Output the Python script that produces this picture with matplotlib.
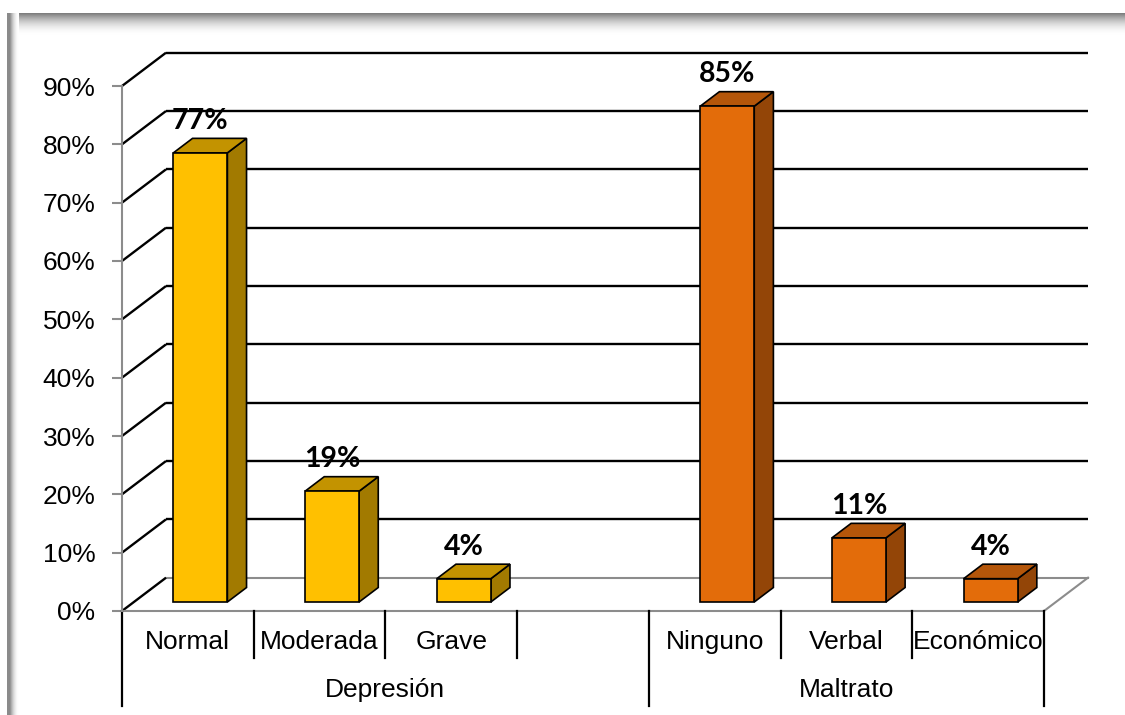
import numpy as np
import matplotlib
matplotlib.use("Agg")
import matplotlib.pyplot as plt
from matplotlib.patches import Polygon
from matplotlib.transforms import blended_transform_factory

# ---- data -------------------------------------------------------------
categories = ["Normal", "Moderada", "Grave", "Ninguno", "Verbal", "Económico"]
groups = ["Depresión", "Maltrato"]
values = [77, 19, 4, 85, 11, 4]
slots = [0, 1, 2, 4, 5, 6]          # slot 3 is the empty spacer between groups
bar_group = [0, 0, 0, 1, 1, 1]
yticks = list(range(0, 91, 10))
ytick_labels = [f"{v}%" for v in yticks]

# face colours per group: (front, top, side)
face_colors = [("#FFC000", "#C39300", "#A27A00"),
               ("#E36C0A", "#B4560A", "#934507")]

W, H = 1125, 715
fig = plt.figure(figsize=(W / 100, H / 100), dpi=100)
fig.patch.set_facecolor("white")

# ---- picture frame (top shadow band and left edge) --------------------
bg = fig.add_axes([0, 0, 1, 1], zorder=-5)
bg.set_xlim(0, W)
bg.set_ylim(H, 0)
bg.axis("off")
t = np.linspace(0, 1, 64)
top_grad = (0.48 + 0.52 * (1 - (1 - t) ** 2.0))[:, None] * np.ones((1, 4))
bg.imshow(top_grad, cmap="gray", vmin=0, vmax=1, extent=(7, W, 36, 13),
          aspect="auto", interpolation="bilinear")
left_grad = (0.55 + 0.45 * (1 - (1 - t) ** 2.0))[None, :] * np.ones((4, 1))
bg.imshow(left_grad, cmap="gray", vmin=0, vmax=1, extent=(10, 19, H, 13),
          aspect="auto", interpolation="bilinear")
bg.fill_between([7, 10], 13, H, color="#8a8a8a", lw=0)
bg.set_xlim(0, W)
bg.set_ylim(H, 0)

# ---- main plotting axes ------------------------------------------------
x0_px, x1_px = 122, 1044
y0_px, y1_px = 611, 86
ax = fig.add_axes([x0_px / W, (H - y0_px) / H, (x1_px - x0_px) / W, (y0_px - y1_px) / H])
n_slots = 7
ax.set_xlim(0, n_slots)
ax.set_ylim(0, 90)
ax.set_facecolor("none")

# depth offset of the back wall, in data units
DX = 44 / ((x1_px - x0_px) / n_slots)
DY = 33.3 / ((y0_px - y1_px) / 90)

def depth(x, y, d):
    return x + d * DX, y + d * DY

grid_kw = dict(color="black", lw=1.7, clip_on=False, zorder=1, solid_capstyle="butt")
floor_kw = dict(color="#8c8c8c", lw=1.5, clip_on=False, zorder=1)

# back wall grid lines and the left-wall diagonals
for v in yticks:
    bx0, by = depth(0, v, 1)
    bx1, _ = depth(n_slots, v, 1)
    if v == 0:
        ax.plot([bx0, bx1], [by, by], **floor_kw)
    else:
        ax.plot([bx0, bx1], [by, by], **grid_kw)
    ax.plot([0, bx0], [v, by], **grid_kw)

# floor outline
ax.plot([0, n_slots], [0, 0], **floor_kw)
fx, fy = depth(n_slots, 0, 1)
ax.plot([n_slots, fx], [0, fy], **floor_kw)

# value axis
for s in ["top", "right", "bottom"]:
    ax.spines[s].set_visible(False)
ax.spines["left"].set_color("#8c8c8c")
ax.spines["left"].set_linewidth(1.5)
ax.spines["left"].set_zorder(2)
ax.set_yticks(yticks)
ax.set_yticklabels(ytick_labels, fontfamily="Liberation Sans", fontsize=19)
ax.tick_params(axis="y", length=7, width=1.5, color="#8c8c8c", pad=12)
ax.set_xticks([])

# ---- 3D bars ------------------------------------------------------------
bar_w = 0.41
d_front, d_back = 0.27, 0.705
edge = dict(edgecolor="black", lw=1.2, joinstyle="miter", clip_on=False, zorder=3)

for s, v, g in zip(slots, values, bar_group):
    front, top, side = face_colors[g]
    xl = s + 0.5 - bar_w / 2 + 0.005
    xr = xl + bar_w
    fl = depth(xl, 0, d_front); fr = depth(xr, 0, d_front)
    tl = depth(xl, v, d_front); tr = depth(xr, v, d_front)
    br_b = depth(xr, 0, d_back); br_t = depth(xr, v, d_back)
    bl_t = depth(xl, v, d_back)
    ax.add_patch(Polygon([fr, br_b, br_t, tr], closed=True, facecolor=side, **edge))
    ax.add_patch(Polygon([tl, tr, br_t, bl_t], closed=True, facecolor=top, **edge))
    ax.add_patch(Polygon([fl, fr, tr, tl], closed=True, facecolor=front, **edge))
    cx = (fl[0] + fr[0]) / 2
    ax.text(cx, br_t[1] + 1.6, f"{v}%", ha="center", va="baseline",
            fontfamily="Lato", fontweight="bold", fontsize=20.5, zorder=5)

# ---- category axis (two levels) -----------------------------------------
xt = blended_transform_factory(ax.transData, ax.transAxes)
short_y = (y0_px - 658) / (y0_px - y1_px)
long_y = (y0_px - 706) / (y0_px - y1_px)
cat_y = (y0_px - 642) / (y0_px - y1_px)
grp_y = (y0_px - 690) / (y0_px - y1_px)

for s, name in zip(slots, categories):
    ax.text(s + 0.5, cat_y, name, transform=xt, ha="center", va="center",
            fontfamily="Liberation Sans", fontsize=19, clip_on=False)

group_bounds = [(0, 4), (4, 7)]
for (a, b), name in zip(group_bounds, groups):
    ax.text((a + b) / 2, grp_y, name, transform=xt, ha="center", va="center",
            fontfamily="Liberation Sans", fontsize=19, clip_on=False)

for k in range(n_slots + 1):
    lo = long_y if k in (0, 4, 7) else short_y
    ax.plot([k, k], [0, lo], transform=xt, color="black", lw=1.6, clip_on=False, zorder=2)

fig.savefig("out.png", dpi=100, facecolor="white")
